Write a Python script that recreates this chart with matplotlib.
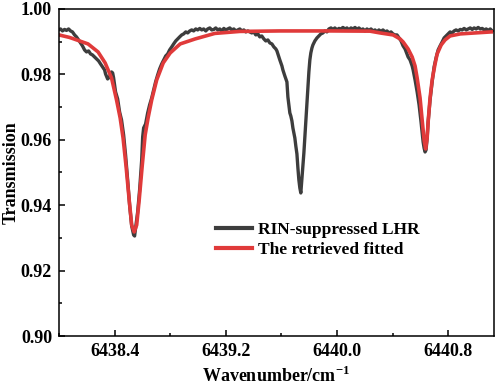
import matplotlib
matplotlib.use("Agg")
import matplotlib.pyplot as plt
from matplotlib.ticker import MultipleLocator

plt.rcParams['font.family'] = ['Liberation Serif', 'DejaVu Serif']
plt.rcParams['font.weight'] = 'bold'
plt.rcParams['mathtext.fontset'] = 'custom'
plt.rcParams['mathtext.rm'] = 'Liberation Serif'
plt.rcParams['mathtext.bf'] = 'Liberation Serif:bold'

meas_x = [
    6437.996, 6438.011, 6438.025, 6438.040, 6438.054, 6438.069, 6438.083, 6438.097,
    6438.112, 6438.126, 6438.141, 6438.155, 6438.169, 6438.184, 6438.198, 6438.213,
    6438.227, 6438.241, 6438.256, 6438.270, 6438.285, 6438.299, 6438.314, 6438.328,
    6438.335, 6438.350, 6438.364, 6438.371, 6438.378, 6438.386, 6438.393, 6438.400,
    6438.407, 6438.422, 6438.436, 6438.450, 6438.465, 6438.479, 6438.494, 6438.508,
    6438.523, 6438.537, 6438.544, 6438.551, 6438.566, 6438.580, 6438.595, 6438.602,
    6438.609, 6438.616, 6438.623, 6438.638, 6438.652, 6438.667, 6438.681, 6438.695,
    6438.710, 6438.724, 6438.739, 6438.753, 6438.768, 6438.782, 6438.796, 6438.811,
    6438.825, 6438.840, 6438.854, 6438.868, 6438.883, 6438.897, 6438.912, 6438.926,
    6438.941, 6438.955, 6438.969, 6438.984, 6438.998, 6439.013, 6439.027, 6439.041,
    6439.056, 6439.070, 6439.085, 6439.099, 6439.114, 6439.128, 6439.142, 6439.157,
    6439.171, 6439.186, 6439.200, 6439.214, 6439.229, 6439.243, 6439.258, 6439.272,
    6439.286, 6439.301, 6439.315, 6439.330, 6439.344, 6439.359, 6439.373, 6439.387,
    6439.402, 6439.416, 6439.431, 6439.445, 6439.459, 6439.474, 6439.488, 6439.503,
    6439.517, 6439.532, 6439.546, 6439.560, 6439.568, 6439.582, 6439.589, 6439.604,
    6439.611, 6439.625, 6439.640, 6439.647, 6439.654, 6439.661, 6439.668, 6439.676,
    6439.683, 6439.690, 6439.697, 6439.704, 6439.712, 6439.719, 6439.726, 6439.733,
    6439.740, 6439.748, 6439.755, 6439.762, 6439.769, 6439.776, 6439.784, 6439.791,
    6439.798, 6439.805, 6439.812, 6439.820, 6439.827, 6439.841, 6439.856, 6439.870,
    6439.884, 6439.899, 6439.913, 6439.928, 6439.942, 6439.957, 6439.971, 6439.985,
    6440.000, 6440.014, 6440.029, 6440.043, 6440.058, 6440.072, 6440.086, 6440.101,
    6440.115, 6440.130, 6440.144, 6440.158, 6440.173, 6440.187, 6440.202, 6440.216,
    6440.230, 6440.245, 6440.259, 6440.274, 6440.288, 6440.302, 6440.317, 6440.331,
    6440.346, 6440.360, 6440.374, 6440.389, 6440.403, 6440.418, 6440.432, 6440.447,
    6440.461, 6440.476, 6440.490, 6440.504, 6440.512, 6440.526, 6440.541, 6440.548,
    6440.562, 6440.577, 6440.591, 6440.605, 6440.620, 6440.627, 6440.634, 6440.641,
    6440.649, 6440.656, 6440.670, 6440.685, 6440.699, 6440.713, 6440.728, 6440.742,
    6440.757, 6440.771, 6440.785, 6440.800, 6440.814, 6440.829, 6440.843, 6440.857,
    6440.872, 6440.887, 6440.901, 6440.915, 6440.930, 6440.944, 6440.959, 6440.973,
    6440.987, 6441.002, 6441.016, 6441.031, 6441.045, 6441.060, 6441.074, 6441.088,
    6441.103, 6441.117,
]
meas_y = [
    0.99358, 0.99388, 0.99327, 0.99373, 0.99343, 0.99388, 0.99327, 0.99297,
    0.99205, 0.99144, 0.99052, 0.98960, 0.98869, 0.98746, 0.98685, 0.98716,
    0.98624, 0.98593, 0.98532, 0.98471, 0.98410, 0.98318, 0.98226, 0.98135,
    0.98012, 0.97859, 0.97921, 0.98012, 0.98073, 0.98043, 0.97890, 0.97676,
    0.97462, 0.97248, 0.96851, 0.96606, 0.96147, 0.95535, 0.94771, 0.94006,
    0.93364, 0.93089, 0.93058, 0.93303, 0.93792, 0.94465, 0.95382, 0.96086,
    0.96361, 0.96422, 0.96483, 0.96820, 0.97065, 0.97278, 0.97523, 0.97768,
    0.97982, 0.98165, 0.98318, 0.98440, 0.98563, 0.98624, 0.98746, 0.98838,
    0.98930, 0.99021, 0.99083, 0.99144, 0.99205, 0.99236, 0.99297, 0.99266,
    0.99327, 0.99358, 0.99327, 0.99388, 0.99358, 0.99404, 0.99358, 0.99388,
    0.99327, 0.99388, 0.99419, 0.99358, 0.99373, 0.99419, 0.99358, 0.99388,
    0.99327, 0.99404, 0.99358, 0.99388, 0.99419, 0.99358, 0.99388, 0.99327,
    0.99358, 0.99388, 0.99327, 0.99358, 0.99297, 0.99327, 0.99297, 0.99266,
    0.99297, 0.99205, 0.99236, 0.99144, 0.99174, 0.99083, 0.99021, 0.99052,
    0.98960, 0.98930, 0.98838, 0.98777, 0.98716, 0.98532, 0.98440, 0.98257,
    0.98135, 0.97951, 0.97768, 0.97309, 0.97065, 0.96820, 0.96728, 0.96575,
    0.96361, 0.96208, 0.96055, 0.95810, 0.95566, 0.95138, 0.94771, 0.94526,
    0.94373, 0.94832, 0.95199, 0.95596, 0.96086, 0.96606, 0.97126, 0.97615,
    0.98073, 0.98440, 0.98654, 0.98807, 0.98899, 0.99021, 0.99113, 0.99174,
    0.99236, 0.99266, 0.99327, 0.99297, 0.99388, 0.99419, 0.99373, 0.99419,
    0.99358, 0.99404, 0.99388, 0.99434, 0.99388, 0.99419, 0.99358, 0.99419,
    0.99388, 0.99434, 0.99373, 0.99419, 0.99358, 0.99388, 0.99327, 0.99388,
    0.99343, 0.99388, 0.99327, 0.99358, 0.99297, 0.99358, 0.99312, 0.99358,
    0.99297, 0.99327, 0.99266, 0.99297, 0.99236, 0.99205, 0.99205, 0.99113,
    0.99021, 0.98869, 0.98777, 0.98624, 0.98532, 0.98440, 0.98257, 0.98135,
    0.97829, 0.97462, 0.97065, 0.96545, 0.95933, 0.95749, 0.95627, 0.95688,
    0.96055, 0.96545, 0.97217, 0.97768, 0.98226, 0.98502, 0.98746, 0.98869,
    0.98991, 0.99113, 0.99174, 0.99236, 0.99297, 0.99266, 0.99327, 0.99358,
    0.99327, 0.99373, 0.99358, 0.99404, 0.99358, 0.99388, 0.99419, 0.99373,
    0.99419, 0.99388, 0.99434, 0.99388, 0.99404, 0.99358, 0.99388, 0.99343,
    0.99388, 0.99327,
]

# retrieved fitted curve
fit_x = [
    6438.000, 6438.076, 6438.148, 6438.209, 6438.281, 6438.332, 6438.378, 6438.414,
    6438.440, 6438.461, 6438.483, 6438.505, 6438.523, 6438.541, 6438.559, 6438.577,
    6438.598, 6438.620, 6438.641, 6438.667, 6438.703, 6438.750, 6438.800, 6438.872,
    6438.980, 6439.121, 6439.301, 6439.589, 6439.950, 6440.238, 6440.310, 6440.404,
    6440.454, 6440.476, 6440.512, 6440.541, 6440.562, 6440.577, 6440.598, 6440.613,
    6440.627, 6440.638, 6440.649, 6440.656, 6440.670, 6440.685, 6440.706, 6440.721,
    6440.750, 6440.778, 6440.814, 6440.887, 6440.995, 6441.110,
]
fit_y = [
    0.99205, 0.99128, 0.99021, 0.98930, 0.98685, 0.98349, 0.97890, 0.97217,
    0.96667, 0.96055, 0.95168, 0.94159, 0.93395, 0.93181, 0.93395, 0.94159,
    0.95168, 0.96147, 0.96667, 0.97217, 0.97829, 0.98349, 0.98654, 0.98930,
    0.99083, 0.99251, 0.99312, 0.99327, 0.99327, 0.99320, 0.99266, 0.99205,
    0.99083, 0.98991, 0.98777, 0.98532, 0.98257, 0.97890, 0.97278, 0.96606,
    0.95994, 0.95719, 0.96055, 0.96544, 0.97278, 0.97829, 0.98318, 0.98624,
    0.98899, 0.99052, 0.99174, 0.99236, 0.99266, 0.99297,
]

x_ticks = [6438.4, 6439.2, 6440.0, 6440.8]
y_ticks = [0.90, 0.92, 0.94, 0.96, 0.98, 1.00]

fig = plt.figure(figsize=(5.0, 3.88), dpi=100)
ax = fig.add_axes([0.118, 0.134, 0.870, 0.843])

ax.plot(meas_x, meas_y, color='#3d3d3d', lw=2.4, label='RIN-suppressed LHR')
ax.plot(fit_x, fit_y, color='#e03a3a', lw=2.6, label='The retrieved fitted')

ax.set_xlim(6438.0, 6441.13)
ax.set_ylim(0.90, 1.00)
ax.set_xticks(x_ticks)
ax.set_xticklabels([f'{t:.1f}' for t in x_ticks])
ax.set_yticks(y_ticks)
ax.set_yticklabels([f'{t:.2f}' for t in y_ticks])
ax.xaxis.set_minor_locator(MultipleLocator(0.4))
ax.yaxis.set_minor_locator(MultipleLocator(0.01))
ax.tick_params(which='both', direction='in', top=False, right=False,
               labelsize=13, width=1.1)
ax.tick_params(which='major', length=4, pad=5)
ax.tick_params(which='minor', length=2.5)
for lab in ax.get_xticklabels() + ax.get_yticklabels():
    lab.set_fontweight('bold')
for sp in ax.spines.values():
    sp.set_linewidth(1.1)

ax.set_xlabel(r'Wavenumber/cm$^{\mathbf{-1}}$', fontsize=13, fontweight='bold',
              labelpad=4)
ax.set_ylabel('Transmission', fontsize=13, fontweight='bold', labelpad=1)

leg = ax.legend(loc='upper left', bbox_to_anchor=(0.345, 0.37), frameon=False,
                fontsize=12.5, handlelength=2.1, handletextpad=0.3,
                labelspacing=0.22, borderaxespad=0)
for line in leg.get_lines():
    line.set_linewidth(3.0)

fig.savefig('out.png', dpi=100)
